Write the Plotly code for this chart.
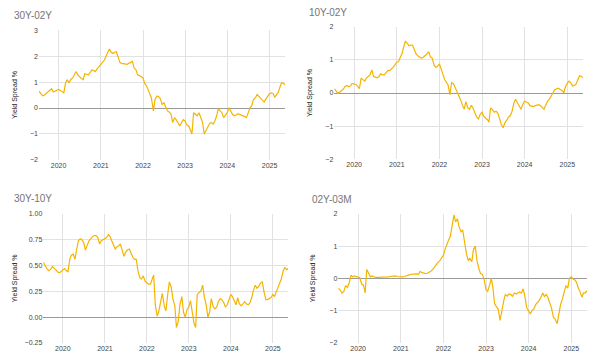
import pandas as pd
import plotly.graph_objects as go

# semi-monthly observation dates (1st and 15th), Jul 2019 - May 2025
dates = pd.date_range("2019-07-15", periods=141, freq="SMS")

s30_02 = [0.65, 0.55, 0.47, 0.50, 0.56, 0.62, 0.68, 0.74, 0.62, 0.66,
          0.71, 0.72, 0.68, 0.64, 0.58, 0.97, 1.09, 0.97, 1.10, 1.16,
          1.30, 1.41, 1.28, 1.19, 1.15, 1.09, 1.32, 1.30, 1.28, 1.38,
          1.47, 1.44, 1.41, 1.52, 1.60, 1.66, 1.74, 1.85, 2.00, 2.15,
          2.27, 2.15, 2.10, 2.15, 2.17, 1.95, 1.75, 1.72, 1.70, 1.70,
          1.68, 1.73, 1.75, 1.82, 1.55, 1.47, 1.28, 1.25, 1.22, 1.16,
          0.95, 0.85, 0.70, 0.55, 0.39, -0.11, 0.33, 0.46, 0.45, 0.35,
          0.14, 0.20, 0.05, -0.11, -0.15, -0.24, -0.56, -0.37, -0.45, -0.62,
          -0.69, -0.56, -0.45, -0.50, -0.65, -0.69, -0.88, -1.00, -0.18, -0.25,
          -0.30, -0.18, -0.35, -0.56, -1.00, -0.85, -0.75, -0.60, -0.56, -0.62,
          -0.50, -0.30, -0.03, -0.10, -0.18, -0.37, -0.30, -0.18, 0.01, -0.15,
          -0.24, -0.30, -0.28, -0.22, -0.24, -0.26, -0.28, -0.33, -0.37, -0.18,
          0.00, 0.10, 0.33, 0.40, 0.52, 0.45, 0.39, 0.30, 0.23, 0.35,
          0.46, 0.55, 0.58, 0.56, 0.42, 0.50, 0.58, 0.80, 0.97, 0.95,
          0.90]

s10_02 = [0.13, 0.05, -0.01, 0.03, 0.07, 0.12, 0.20, 0.23, 0.19, 0.22,
          0.29, 0.27, 0.26, 0.20, 0.13, 0.45, 0.40, 0.36, 0.45, 0.50,
          0.55, 0.70, 0.50, 0.48, 0.46, 0.50, 0.58, 0.55, 0.55, 0.62,
          0.68, 0.68, 0.72, 0.78, 0.85, 0.93, 0.95, 1.08, 1.20, 1.40,
          1.56, 1.50, 1.43, 1.45, 1.45, 1.30, 1.18, 1.12, 1.08, 1.05,
          1.08, 1.12, 1.18, 1.25, 1.10, 1.05, 0.85, 0.78, 0.80, 0.88,
          0.70, 0.55, 0.40, 0.33, 0.25, -0.05, 0.31, 0.28, 0.18, 0.06,
          -0.05, -0.20, -0.35, -0.49, -0.26, -0.45, -0.49, -0.37, -0.45, -0.62,
          -0.72, -0.78, -0.65, -0.58, -0.70, -0.76, -0.80, -0.88, -0.45, -0.50,
          -0.58, -0.55, -0.60, -0.78, -0.95, -1.05, -0.90, -0.82, -0.73, -0.68,
          -0.55, -0.30, -0.19, -0.30, -0.40, -0.49, -0.35, -0.24, -0.27, -0.30,
          -0.38, -0.40, -0.41, -0.38, -0.37, -0.35, -0.38, -0.45, -0.49, -0.35,
          -0.25, -0.18, -0.10, 0.03, 0.10, 0.13, 0.15, 0.11, 0.08, 0.01,
          0.18, 0.30, 0.36, 0.30, 0.21, 0.23, 0.26, 0.40, 0.52, 0.50,
          0.47]

s30_10 = [0.53, 0.49, 0.47, 0.45, 0.46, 0.49, 0.48, 0.46, 0.44, 0.43,
          0.44, 0.46, 0.47, 0.45, 0.44, 0.56, 0.60, 0.61, 0.56, 0.66,
          0.74, 0.76, 0.75, 0.72, 0.65, 0.70, 0.74, 0.76, 0.78, 0.79,
          0.79, 0.77, 0.71, 0.74, 0.75, 0.76, 0.77, 0.80, 0.78, 0.74,
          0.71, 0.66, 0.68, 0.69, 0.71, 0.65, 0.59, 0.63, 0.65, 0.66,
          0.62, 0.58, 0.56, 0.56, 0.45, 0.38, 0.37, 0.40, 0.35, 0.33,
          0.32, 0.32, 0.36, 0.41, 0.12, 0.01, 0.06, 0.14, 0.23, 0.11,
          0.06, 0.22, 0.34, 0.29, 0.18, 0.11, -0.10, -0.04, 0.12, 0.20,
          0.05, 0.00, 0.07, 0.10, 0.16, 0.04, -0.06, -0.10, 0.22, 0.24,
          0.25, 0.31, 0.20, 0.12, 0.00, 0.05, 0.18, 0.10, 0.08, 0.10,
          0.15, 0.18, 0.17, 0.14, 0.10, 0.12, 0.17, 0.22, 0.20, 0.15,
          0.12, 0.19, 0.13, 0.11, 0.13, 0.15, 0.13, 0.12, 0.14, 0.19,
          0.26, 0.31, 0.28, 0.30, 0.33, 0.34, 0.25, 0.17, 0.17, 0.18,
          0.19, 0.22, 0.20, 0.25, 0.29, 0.33, 0.37, 0.45, 0.48, 0.46,
          0.47]

s02_3m = [-0.30, -0.36, -0.45, -0.40, -0.22, -0.28, -0.15, 0.10, 0.05, 0.08,
          0.05, 0.05, 0.02, -0.18, -0.20, -0.45, 0.28, 0.15, 0.05, 0.08,
          0.05, 0.03, 0.03, 0.03, 0.03, 0.04, 0.04, 0.05, 0.05, 0.06,
          0.07, 0.08, 0.08, 0.06, 0.05, 0.04, 0.05, 0.06, 0.07, 0.09,
          0.11, 0.13, 0.14, 0.14, 0.14, 0.13, 0.22, 0.18, 0.16, 0.15,
          0.16, 0.18, 0.22, 0.28, 0.36, 0.42, 0.50, 0.55, 0.62, 0.72,
          0.90, 1.08, 1.20, 1.30, 1.67, 1.97, 1.75, 1.85, 1.60, 1.45,
          1.50, 1.10, 0.80, 0.55, 0.62, 0.52, 0.90, 1.00, 0.55, 0.30,
          0.15, 0.12, -0.02, -0.35, -0.40, -0.20, 0.00, -0.30, -0.78, -0.88,
          -0.95, -1.30, -1.00, -0.70, -0.50, -0.55, -0.48, -0.50, -0.55, -0.45,
          -0.48, -0.45, -0.42, -0.45, -0.32, -0.58, -0.90, -1.01, -1.10, -0.98,
          -0.95, -0.81, -0.76, -0.68, -0.58, -0.45, -0.56, -0.50, -0.60, -0.75,
          -0.92, -1.21, -1.26, -1.40, -1.10, -0.80, -0.65, -0.40, -0.22, -0.30,
          0.00, 0.05, -0.02, -0.05, -0.12, -0.30, -0.40, -0.58, -0.45, -0.45,
          -0.38]

titles = ["30Y-02Y", "10Y-02Y", "30Y-10Y", "02Y-03M"]
series = [s30_02, s10_02, s30_10, s02_3m]
y_ranges = [[-2, 3], [-2, 2], [-0.25, 1.0], [-2, 2]]
y_dticks = [1, 1, 0.25, 1]
y_formats = ["d", "d", ".2f", "d"]
axis_title = "Yield Spread %"

W, H = 595, 362
# plot areas in pixels: (left, right, top, bottom)
boxes = [(39, 285, 26.7, 159), (334.3, 583, 23.3, 158.3),
         (43.3, 288.3, 214, 345.7), (338.3, 587, 214, 345.7)]
title_pos = [(12, 12), (307, 9), (12, 198), (310, 199)]
ytitle_x = [15, 310, 15, 313]

LINE = "#F4B400"
GRID = "#e2e2e2"
FONT = "Arial, Liberation Sans, sans-serif"

fig = go.Figure()
layout = dict(width=W, height=H, margin=dict(l=0, r=0, t=0, b=0),
              paper_bgcolor="white", plot_bgcolor="white",
              showlegend=False, font=dict(family=FONT, size=7, color="#444"))
annotations = []
for k in range(4):
    n = "" if k == 0 else str(k + 1)
    l, r, t, b = boxes[k]
    vals = series[k]
    fig.add_trace(go.Scatter(x=dates[:len(vals)], y=vals, mode="lines",
                             line=dict(color=LINE, width=1.2),
                             xaxis="x" + n, yaxis="y" + n, hoverinfo="x+y"))
    layout["xaxis" + n] = dict(domain=[l / W, r / W], anchor="y" + n,
                               range=["2019-07-15", "2025-05-15"],
                               type="date", dtick="M12", tick0="2020-01-01",
                               tickformat="%Y", showgrid=True, gridcolor=GRID,
                               gridwidth=1, showline=False, zeroline=False,
                               ticks="", tickfont=dict(size=7, color="#444"))
    layout["yaxis" + n] = dict(domain=[1 - b / H, 1 - t / H], anchor="x" + n,
                               range=y_ranges[k], dtick=y_dticks[k],
                               tickformat=y_formats[k], showgrid=True,
                               gridcolor=GRID, gridwidth=1, zeroline=True,
                               zerolinecolor="#9a9a9a", zerolinewidth=1.3,
                               showline=False, ticks="",
                               tickfont=dict(size=7, color="#444"))
    tx, ty = title_pos[k]
    annotations.append(dict(text=titles[k], x=tx / W, y=1 - ty / H,
                            xref="paper", yref="paper", xanchor="left",
                            yanchor="middle", showarrow=False,
                            font=dict(size=10, color="#757575", family=FONT)))
    annotations.append(dict(text=axis_title, x=ytitle_x[k] / W,
                            y=1 - (t + b) / 2 / H, xref="paper", yref="paper",
                            xanchor="center", yanchor="middle", textangle=-90,
                            showarrow=False,
                            font=dict(size=7, color="#222", family=FONT)))
layout["annotations"] = annotations
fig.update_layout(**layout)
fig.write_html("out.html", config={"displayModeBar": False},
               post_script="document.body.style.margin='0';"
                           "document.body.style.padding='0';")
